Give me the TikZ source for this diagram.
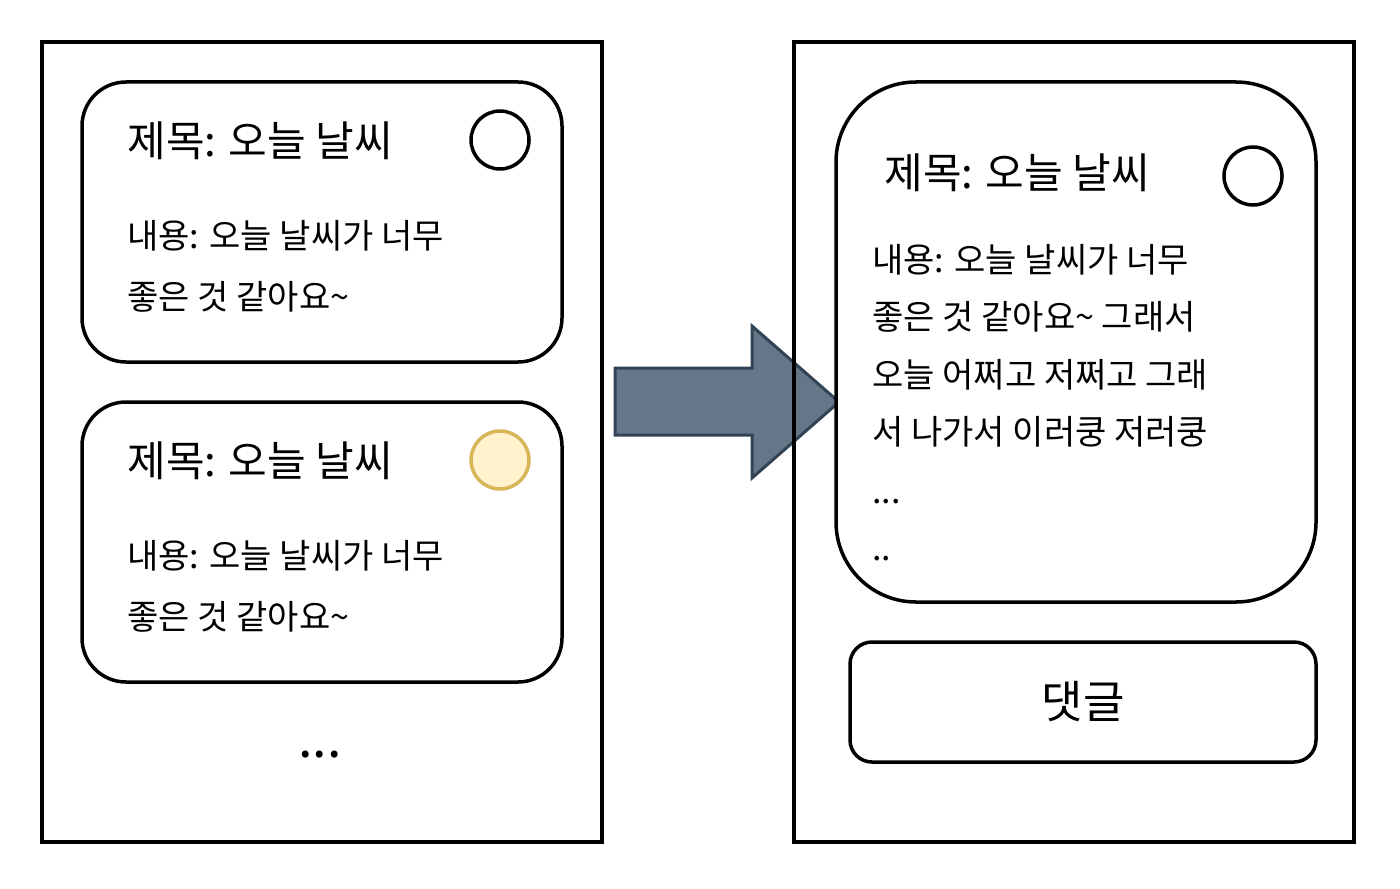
\documentclass[tikz,border=0pt]{standalone}
\usepackage{fontspec}
\setmainfont{Noto Sans CJK KR}
\usetikzlibrary{positioning}

\begin{document}
\begin{tikzpicture}[x=0.5pt,y=-0.5pt,
  screen/.style={draw,line width=1.75pt},
  card/.style={draw,line width=1.75pt,fill=white,rounded corners=22pt,inner sep=0pt},
  bigcard/.style={card,rounded corners=40pt},
  btn/.style={card,rounded corners=11pt,font=\fontsize{22.5}{26}\selectfont},
  selector/.style={draw,circle,line width=1.75pt,minimum size=29pt,inner sep=0pt},
  title/.style={anchor=base west,inner sep=0pt,font=\fontsize{21}{25}\selectfont},
  body/.style={anchor=base west,inner sep=0pt,font=\fontsize{17}{20}\selectfont}]
\useasboundingbox (0,0) rectangle (1400,888);

% arrow between the two screens
\draw[line width=1.5pt,draw={rgb,255:red,49;green,67;blue,84},fill={rgb,255:red,100;green,118;blue,135}]
  (615,368) -- (752,368) -- (752,326) -- (839,402) -- (752,478) -- (752,435) -- (615,435) -- cycle;

% list screen
\draw[screen] (42,42) rectangle (602,842);
\node[card,minimum width=240pt,minimum height=140pt] (cardA) at (322,222) {};
\node[card,minimum width=240pt,minimum height=140pt] (cardB) at (322,542) {};
\node[title] (titleA) at (127,156) {제목: 오늘 날씨};
\node[selector] (selA) at (500,140) {};
\node[body] (bodyA) at (127,248) {내용: 오늘 날씨가 너무};
\node[body] (moreA) at (127,309) {좋은 것 같아요\textasciitilde};
\node[title] (titleB) at (127,476) {제목: 오늘 날씨};
\node[selector,draw={rgb,255:red,214;green,182;blue,86},fill={rgb,255:red,255;green,242;blue,204}] (selB) at (500,460) {};
\node[body] (bodyB) at (127,568) {내용: 오늘 날씨가 너무};
\node[body] (moreB) at (127,629) {좋은 것 같아요\textasciitilde};
\node[inner sep=0pt,font=\fontsize{26}{30}\selectfont] (rest) at (320,755) {...};

% detail screen
\draw[screen] (794,42) rectangle (1354,842);
\node[bigcard,minimum width=240pt,minimum height=260pt] (post) at (1076,342) {};
\node[title] (postTitle) at (884,188) {제목: 오늘 날씨};
\node[selector] (postSel) at (1253,176) {};
\foreach \txt [count=\i from 0] in {{내용: 오늘 날씨가 너무},
  {좋은 것 같아요\textasciitilde{} 그래서}, {오늘 어쩌고 저쩌고 그래},
  {서 나가서 이러쿵 저러쿵}}
  \node[body] (line\i) at (872,272+57.6*\i) {\txt};
\node[body] (line4) at (872,503) {...};
\node[body] (line5) at (872,560) {..};
\node[btn,minimum width=233pt,minimum height=60pt] (reply) at (1083,702) {댓글};
\end{tikzpicture}
\end{document}
